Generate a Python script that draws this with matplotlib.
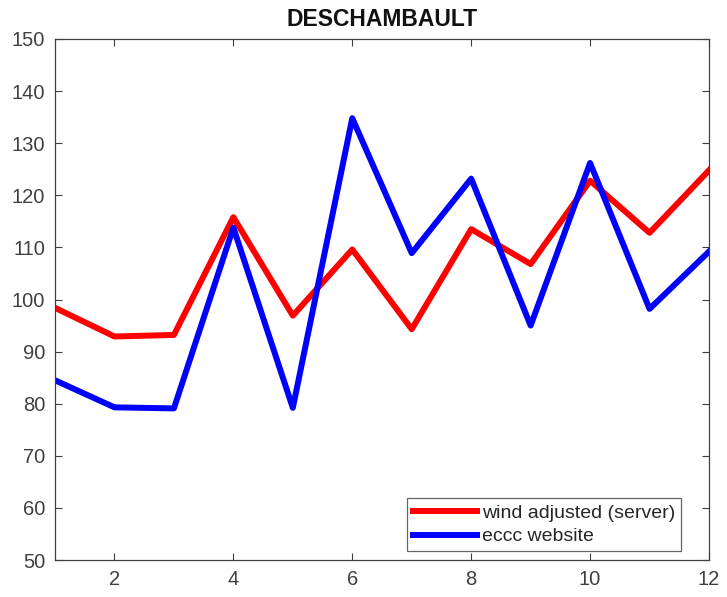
import numpy as np
import matplotlib
matplotlib.use('Agg')
from matplotlib import pyplot as plt

plt.rcParams['font.family'] = ['Liberation Sans', 'DejaVu Sans']

months = np.arange(1, 13)
wind_adjusted = [98.4, 92.9, 93.2, 115.8, 96.9, 109.6, 94.3, 113.5, 106.8, 122.8, 112.8, 124.8]
eccc_website = [84.5, 79.3, 79.1, 113.8, 79.2, 134.8, 108.9, 123.2, 95.0, 126.2, 98.2, 109.2]

x_ticks = [2, 4, 6, 8, 10, 12]
y_ticks = np.arange(50, 151, 10)

fig = plt.figure(figsize=(7.27, 5.97), dpi=100)
ax = fig.add_axes([55 / 727, 37 / 597, 654 / 727, 521 / 597])

ax.plot(months, wind_adjusted, color='#ff0000', lw=4.3, solid_joinstyle='round',
        label='wind adjusted (server)')
ax.plot(months, eccc_website, color='#0000ff', lw=4.3, solid_joinstyle='round',
        label='eccc website')

ax.set_xlim(1, 12)
ax.set_ylim(50, 150)
ax.set_xticks(x_ticks)
ax.set_yticks(y_ticks)
ax.tick_params(direction='in', top=True, right=True, length=5, width=0.8,
               colors='#404040', labelsize=14.5, pad=7)
for s in ax.spines.values():
    s.set_color('#404040')
    s.set_linewidth(0.9)

ax.set_title('DESCHAMBAULT', fontsize=16.5, fontweight='bold', color='#111111', pad=9)

leg = ax.legend(loc='lower right', bbox_to_anchor=(0.957, 0.017), borderaxespad=0,
                fontsize=14, handlelength=3.3, handletextpad=0.25, borderpad=0.3,
                labelspacing=0.3, frameon=True, fancybox=False)
leg.get_frame().set_edgecolor('#404040')
leg.get_frame().set_linewidth(0.9)
for t in leg.get_texts():
    t.set_color('#262626')

fig.savefig('out.png', dpi=100)
